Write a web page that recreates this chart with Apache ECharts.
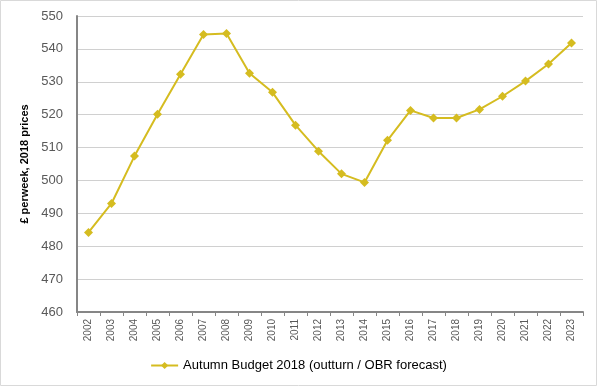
<!DOCTYPE html>
<html><head><meta charset="utf-8">
<script src="https://cdn.jsdelivr.net/npm/echarts@6/dist/echarts.min.js"></script>
<style>html,body{margin:0;padding:0;background:#fff}#c{width:597px;height:386px}</style>
</head><body><div id="c"></div>
<script>
const years = ['2002','2003','2004','2005','2006','2007','2008','2009','2010','2011','2012','2013','2014','2015','2016','2017','2018','2019','2020','2021','2022','2023'];
const values = [484.2,493.0,507.4,520.1,532.3,544.4,544.7,532.6,526.8,516.8,508.9,502.0,499.4,512.2,521.3,519.0,519.0,521.6,525.6,530.2,535.4,541.8];
const seriesName = 'Autumn Budget 2018 (outturn / OBR forecast)';
const yAxisTitle = '£ perweek, 2018 prices';
const yMin = 460, yMax = 550, yStep = 10;

const chart = echarts.init(document.getElementById('c'), null, {renderer:'canvas'});
const gold = '#D5BC20';
const font = 'Liberation Sans, Arial, sans-serif';
chart.setOption({
  animation:false,
  graphic:[{type:'rect',shape:{x:0.5,y:0.5,width:596,height:385},style:{fill:'none',stroke:'#d9d9d9',lineWidth:1},silent:true}],
  grid:{left:77,right:14,top:16,bottom:74,containLabel:false},
  legend:{bottom:9,left:'center',itemWidth:27,itemHeight:9,itemGap:6,
    textStyle:{fontFamily:font,fontSize:13,color:'#000'},
    data:[seriesName]},
  xAxis:{type:'category',data:years,boundaryGap:true,
    axisLine:{lineStyle:{color:'#868686',width:2}},
    axisTick:{show:true,alignWithLabel:false,length:4,lineStyle:{color:'#868686',width:1}},
    axisLabel:{rotate:90,fontFamily:font,fontSize:10,color:'#595959',margin:7,interval:0}},
  yAxis:{type:'value',min:yMin,max:yMax,interval:yStep,
    name:yAxisTitle,nameLocation:'middle',nameGap:41,
    nameTextStyle:{fontFamily:font,fontSize:11,fontWeight:'bold',color:'#000'},
    axisLine:{show:true,lineStyle:{color:'#868686',width:2}},
    axisTick:{show:false},
    axisLabel:{fontFamily:font,fontSize:13,color:'#595959',margin:14},
    splitLine:{lineStyle:{color:'#d0d0d0',width:1}}},
  series:[{name:seriesName,type:'line',data:values,symbol:'diamond',symbolSize:9,
    lineStyle:{color:gold,width:2},itemStyle:{color:gold}}]
});
</script></body></html>
